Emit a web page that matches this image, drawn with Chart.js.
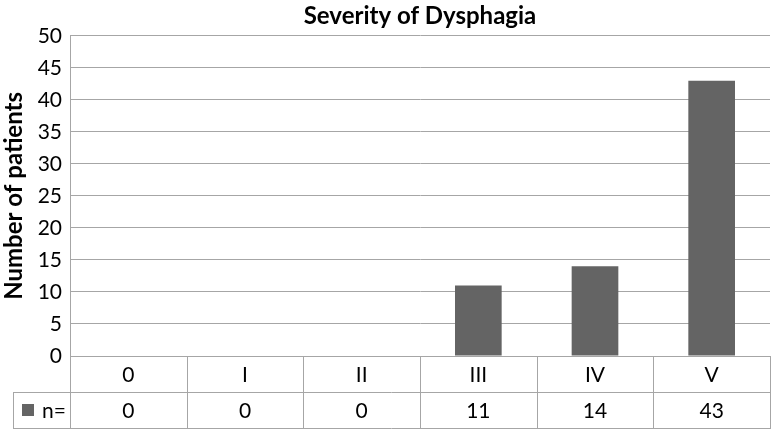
<!DOCTYPE html>
<html>
<head>
<meta charset="utf-8">
<script src="https://cdn.jsdelivr.net/npm/chart.js@4/dist/chart.umd.min.js"></script>
<style>
html,body{margin:0;padding:0;background:#fff;}
#wrap{width:774px;height:430px;position:relative;}
</style>
</head>
<body>
<div id="wrap"><canvas id="c" width="774" height="430"></canvas></div>
<script>
const categories = ['0', 'I', 'II', 'III', 'IV', 'V'];
const values = [0, 0, 0, 11, 14, 43];
const seriesName = 'n=';
const yTicks = [0, 5, 10, 15, 20, 25, 30, 35, 40, 45, 50];

const FONT = 'Lato, "Open Sans", sans-serif';
const BAR = '#646464';
const LINE = '#a6a6a6';

const tablePlugin = {
  id: 'dataTable',
  afterDraw(chart) {
    const ctx = chart.ctx;
    const x = chart.scales.x;
    const area = chart.chartArea;
    const step = x.getPixelForValue(1) - x.getPixelForValue(0);
    const top = area.bottom;
    const rowH = 36;
    const mid = top + rowH;
    const bot = top + 2 * rowH;
    const legendLeft = 13;
    ctx.save();
    ctx.strokeStyle = LINE;
    ctx.lineWidth = 1;
    ctx.beginPath();
    ctx.moveTo(area.left, Math.round(top) + 0.5); ctx.lineTo(area.right, Math.round(top) + 0.5);
    ctx.moveTo(legendLeft, Math.round(mid) + 0.5); ctx.lineTo(area.right, Math.round(mid) + 0.5);
    ctx.moveTo(legendLeft, Math.round(bot) + 0.5); ctx.lineTo(area.right, Math.round(bot) + 0.5);
    ctx.moveTo(legendLeft + 0.5, Math.round(mid)); ctx.lineTo(legendLeft + 0.5, Math.round(bot) + 1);
    for (let i = 0; i <= categories.length; i++) {
      const px = Math.round(x.getPixelForValue(i) - step / 2) + 0.5;
      ctx.moveTo(px, top); ctx.lineTo(px, Math.round(bot) + 1);
    }
    ctx.stroke();
    ctx.fillStyle = '#000';
    ctx.font = '21px ' + FONT;
    ctx.textAlign = 'center';
    ctx.textBaseline = 'middle';
    categories.forEach((c, i) => {
      const px = x.getPixelForValue(i);
      ctx.fillText(c, px, top + rowH / 2 + 1);
      ctx.fillText(String(values[i]), px, mid + rowH / 2 + 1);
    });
    ctx.fillStyle = BAR;
    ctx.fillRect(22, mid + rowH / 2 - 6, 12, 12);
    ctx.fillStyle = '#000';
    ctx.textAlign = 'left';
    ctx.fillText(seriesName, 42, mid + rowH / 2 + 1);
    ctx.restore();
  }
};

new Chart(document.getElementById('c'), {
  type: 'bar',
  data: {
    labels: categories,
    datasets: [{
      label: seriesName,
      data: values,
      backgroundColor: BAR,
      borderWidth: 0,
      categoryPercentage: 1,
      barPercentage: 0.4
    }]
  },
  options: {
    responsive: false,
    animation: false,
    layout: { padding: { left: 0, right: 4, top: 0, bottom: 74 } },
    plugins: {
      legend: { display: false },
      tooltip: { enabled: false },
      title: {
        display: true,
        fullSize: false,
        text: 'Severity of Dysphagia',
        color: '#000',
        font: { family: FONT, size: 24, weight: 'bold' },
        padding: { top: 2, bottom: 5 }
      }
    },
    scales: {
      x: {
        grid: { display: false },
        border: { display: false },
        ticks: { display: false },
        afterFit(s) { s.height = 0; }
      },
      y: {
        min: 0,
        max: 50,
        afterBuildTicks(s) { s.ticks = yTicks.map(v => ({ value: v })); },
        afterFit(s) { s.width = 70; },
        grid: { color: LINE, drawTicks: false, lineWidth: 1 },
        border: { color: LINE, display: true },
        ticks: { color: '#000', font: { family: FONT, size: 21 }, padding: 8 },
        title: {
          display: true,
          text: 'Number of patients',
          color: '#000',
          font: { family: FONT, size: 24, weight: 'bold' },
          padding: { top: 0, bottom: 0 }
        }
      }
    }
  },
  plugins: [tablePlugin]
});
</script>
</body>
</html>
